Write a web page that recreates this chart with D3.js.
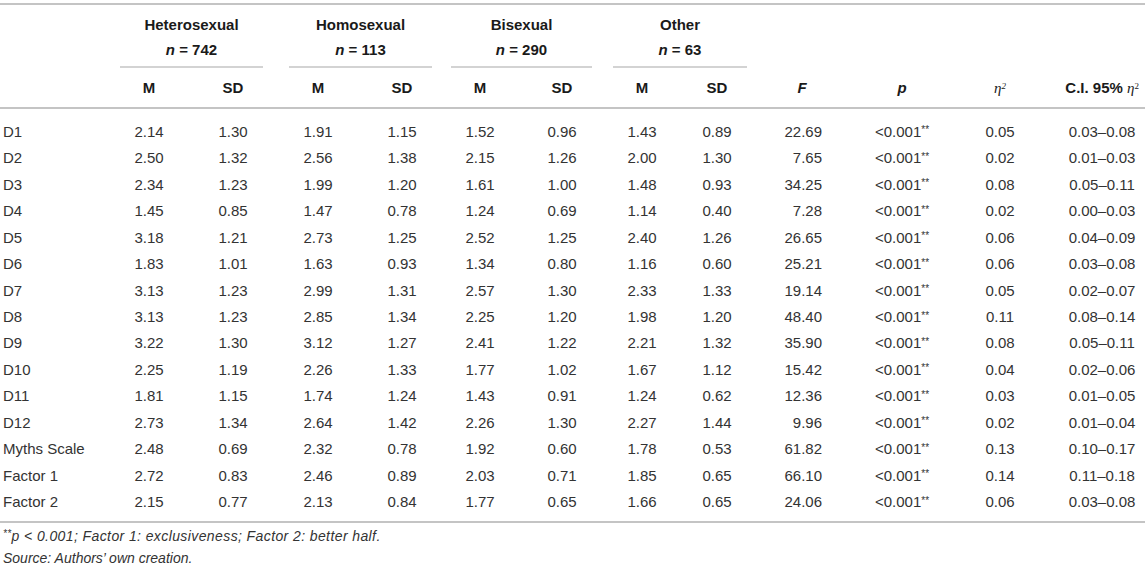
<!DOCTYPE html>
<html><head><meta charset="utf-8">
<script src="https://cdn.jsdelivr.net/npm/d3@7"></script>
<style>
body{margin:0;background:#fff}
svg{display:block;font-family:"Liberation Sans",Arial,Helvetica,sans-serif}
</style>
</head><body>
<svg id="c" width="1145" height="568"></svg>
<script>
// ---------- data ----------
const rowLabels = ["D1","D2","D3","D4","D5","D6","D7","D8","D9","D10","D11","D12","Myths Scale","Factor 1","Factor 2"];
const groups = ["Heterosexual","Homosexual","Bisexual","Other"];
const groupN = [742,113,290,63];
const hetM  = [2.14,2.50,2.34,1.45,3.18,1.83,3.13,3.13,3.22,2.25,1.81,2.73,2.48,2.72,2.15];
const hetSD = [1.30,1.32,1.23,0.85,1.21,1.01,1.23,1.23,1.30,1.19,1.15,1.34,0.69,0.83,0.77];
const homM  = [1.91,2.56,1.99,1.47,2.73,1.63,2.99,2.85,3.12,2.26,1.74,2.64,2.32,2.46,2.13];
const homSD = [1.15,1.38,1.20,0.78,1.25,0.93,1.31,1.34,1.27,1.33,1.24,1.42,0.78,0.89,0.84];
const biM   = [1.52,2.15,1.61,1.24,2.52,1.34,2.57,2.25,2.41,1.77,1.43,2.26,1.92,2.03,1.77];
const biSD  = [0.96,1.26,1.00,0.69,1.25,0.80,1.30,1.20,1.22,1.02,0.91,1.30,0.60,0.71,0.65];
const othM  = [1.43,2.00,1.48,1.14,2.40,1.16,2.33,1.98,2.21,1.67,1.24,2.27,1.78,1.85,1.66];
const othSD = [0.89,1.30,0.93,0.40,1.26,0.60,1.33,1.20,1.32,1.12,0.62,1.44,0.53,0.65,0.65];
const Fval  = [22.69,7.65,34.25,7.28,26.65,25.21,19.14,48.40,35.90,15.42,12.36,9.96,61.82,66.10,24.06];
const pval  = ["<0.001","<0.001","<0.001","<0.001","<0.001","<0.001","<0.001","<0.001","<0.001","<0.001","<0.001","<0.001","<0.001","<0.001","<0.001"];
const eta2  = [0.05,0.02,0.08,0.02,0.06,0.06,0.05,0.11,0.08,0.04,0.03,0.02,0.13,0.14,0.06];
const ciLow = [0.03,0.01,0.05,0.00,0.04,0.03,0.02,0.08,0.05,0.02,0.01,0.01,0.10,0.11,0.03];
const ciHigh= [0.08,0.03,0.11,0.03,0.09,0.08,0.07,0.14,0.11,0.06,0.05,0.04,0.17,0.18,0.08];
const footnote1 = "p < 0.001; Factor 1: exclusiveness; Factor 2: better half.";
const footnote2 = "Source: Authors\u2019 own creation.";

// ---------- layout ----------
const W = 1145, H = 568;
const fmt = d3.format(".2f");
const svg = d3.select("#c");
const colKeys = ["hetM","hetSD","homM","homSD","biM","biSD","othM","othSD","F","p","eta","ci"];
const colX = d3.scaleOrdinal().domain(colKeys).range([149,233,318,402,480,562,642,717,822,902,1000,1102]);
const y = d3.scalePoint().domain(rowLabels).range([131.5,502]);
const colData = {hetM,hetSD,homM,homSD,biM,biSD,othM,othSD};
const groupCols = [["hetM","hetSD"],["homM","homSD"],["biM","biSD"],["othM","othSD"]];

const dataColor = "#333", headColor = "#1a1a1a", lineColor = "#c4c4c4";
const fs = 15;

// horizontal rules
function hline(x1,x2,yy,w){ svg.append("line").attr("x1",x1).attr("x2",x2).attr("y1",yy).attr("y2",yy)
  .attr("stroke",lineColor).attr("stroke-width",w); }
hline(0,W,4,2);
hline(0,W,108,2);
hline(0,W,522,2);

// group headers
const gh = svg.append("g").attr("font-weight","bold").attr("fill",headColor).attr("font-size",fs).attr("text-anchor","middle");
groups.forEach((g,i)=>{
  const x1 = colX(groupCols[i][0]) - 29, x2 = colX(groupCols[i][1]) + 30;
  const cx = (x1+x2)/2;
  gh.append("text").attr("x",cx).attr("y",25).attr("dy","0.35em").text(g);
  const t = gh.append("text").attr("x",cx).attr("y",50).attr("dy","0.35em");
  t.append("tspan").attr("font-style","italic").text("n");
  t.append("tspan").text(" = " + groupN[i]);
  hline(x1,x2,67,1.5);
  gh.append("text").attr("x",colX(groupCols[i][0])).attr("y",88).attr("dy","0.35em").text("M");
  gh.append("text").attr("x",colX(groupCols[i][1])).attr("y",88).attr("dy","0.35em").text("SD");
});
gh.append("text").attr("x",802).attr("y",88).attr("dy","0.35em").attr("font-style","italic").text("F");
gh.append("text").attr("x",colX("p")).attr("y",88).attr("dy","0.35em").attr("font-style","italic").text("p");
const eh = gh.append("text").attr("x",colX("eta")).attr("y",88).attr("dy","0.35em")
  .attr("font-family","Liberation Serif,serif").attr("font-style","italic").attr("font-weight","normal");
eh.append("tspan").text("\u03b7");
eh.append("tspan").attr("font-size",9).attr("dy","-0.5em").text("2");
const ch = gh.append("text").attr("x",1139).attr("y",88).attr("dy","0.35em").attr("text-anchor","end");
ch.append("tspan").text("C.I. 95% ");
ch.append("tspan").attr("font-family","Liberation Serif,serif").attr("font-style","italic").attr("font-weight","normal").text("\u03b7");
ch.append("tspan").attr("font-family","Liberation Serif,serif").attr("font-weight","normal").attr("font-size",9).attr("dy","-0.5em").text("2");

// body
const body = svg.append("g").attr("fill",dataColor).attr("font-size",fs);
const rows = body.selectAll("g.row").data(rowLabels).join("g").attr("class","row")
  .attr("transform",d=>`translate(0,${y(d)})`);
rows.append("text").attr("x",3).attr("dy","0.35em").text(d=>d);
Object.keys(colData).forEach(k=>{
  rows.append("text").attr("x",colX(k)).attr("dy","0.35em").attr("text-anchor","middle")
    .text((d,i)=>fmt(colData[k][i]));
});
rows.append("text").attr("x",colX("F")).attr("dy","0.35em").attr("text-anchor","end").text((d,i)=>fmt(Fval[i]));
const pt = rows.append("text").attr("x",colX("p")).attr("dy","0.35em").attr("text-anchor","middle");
pt.append("tspan").text((d,i)=>pval[i]);
pt.append("tspan").attr("font-size",10).attr("dy","-0.35em").text("**");
rows.append("text").attr("x",colX("eta")).attr("dy","0.35em").attr("text-anchor","middle").text((d,i)=>fmt(eta2[i]));
rows.append("text").attr("x",colX("ci")).attr("dy","0.35em").attr("text-anchor","middle")
  .text((d,i)=>fmt(ciLow[i]) + "\u2013" + fmt(ciHigh[i]));

// footnotes
const fn = svg.append("g").attr("fill",dataColor).attr("font-size",14).attr("font-style","italic");
const f1 = fn.append("text").attr("x",3).attr("y",540).attr("dy","0.35em").attr("letter-spacing",0.4);
f1.append("tspan").attr("font-size",10).attr("dy","-0.35em").text("**");
f1.append("tspan").attr("dy","0.35em").text(footnote1);
fn.append("text").attr("x",3).attr("y",558).attr("dy","0.35em").text(footnote2);
</script>
</body></html>
